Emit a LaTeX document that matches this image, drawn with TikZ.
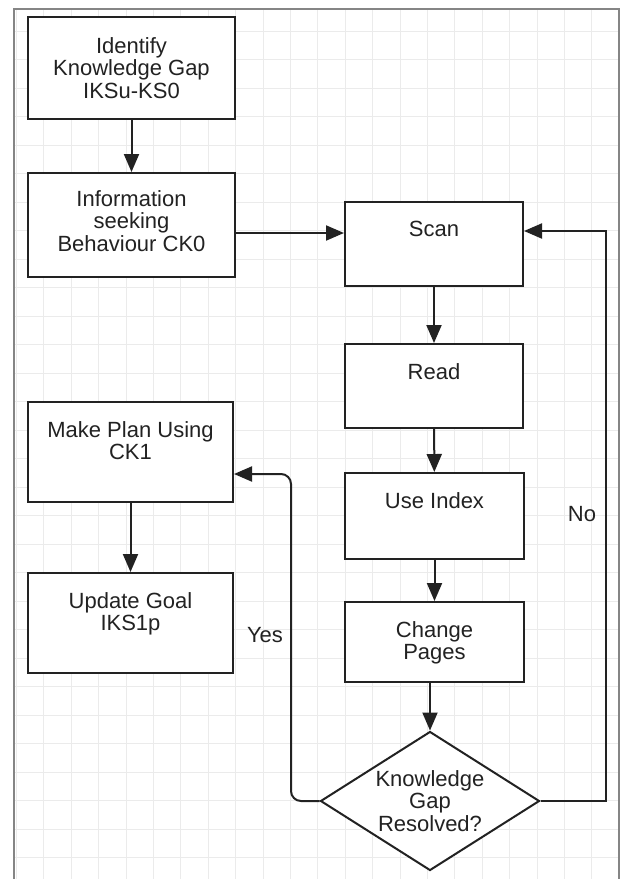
\documentclass[tikz,border=0pt]{standalone}
\usepackage{fontspec}
\setmainfont{Liberation Sans}
\usetikzlibrary{shapes.geometric,arrows.meta}
\definecolor{linec}{HTML}{222222}
\definecolor{textc}{HTML}{222222}
\definecolor{gridc}{HTML}{EBEBEB}
\definecolor{framec}{HTML}{858585}
\begin{document}
\begin{tikzpicture}[x=1pt,y=-1pt,
  box/.style={draw=linec, line width=2pt, fill=white, inner sep=0pt},
  txt/.style={font=\fontsize{22}{22.5}\selectfont, align=center, inner sep=0pt, text=textc},
  conn/.style={draw=linec, line width=2pt, -{Triangle[length=18pt,width=15pt]}},
  gridline/.style={draw=gridc, line width=1pt}]
\useasboundingbox (0,0) rectangle (620,879);
\fill[white] (0,0) rectangle (620,879);
% grid
\foreach \i in {0,...,21} \draw[gridline] ({16.4+\i*27.4},9) -- ({16.4+\i*27.4},879);
\foreach \k in {1,...,30} \draw[gridline] (14,{2.5+\k*28.5}) -- (619,{2.5+\k*28.5});
% frame
\draw[framec, line width=1.5pt] (14,879) -- (14,9) -- (619,9) -- (619,879);

% left column
\node[box, minimum width=207pt, minimum height=102pt] (b1) at (131.5,68) {};
\node[txt] (t1) at (b1) {Identify\\Knowledge Gap\\IKSu-KS0};
\node[box, minimum width=207pt, minimum height=104pt] (b2) at (131.5,225) {};
\node[txt] (t2) at ([yshift=4pt]b2.center) {Information\\seeking\\Behaviour CK0};
\node[box, minimum width=205pt, minimum height=100pt] (plan) at (130.5,452) {};
\node[txt, anchor=north] (tplan) at ([yshift=-20pt]plan.north) {Make Plan Using\\CK1};
\node[box, minimum width=205pt, minimum height=100pt] (goal) at (130.5,623) {};
\node[txt, anchor=north] (tgoal) at ([yshift=-20pt]goal.north) {Update Goal\\IKS1p};

% right column
\node[box, minimum width=178pt, minimum height=84pt] (scan) at (434,244) {};
\node[txt, anchor=north] (tscan) at ([yshift=-20pt]scan.north) {Scan};
\node[box, minimum width=178pt, minimum height=84pt] (read) at (434,386) {};
\node[txt, anchor=north] (tread) at ([yshift=-20pt]read.north) {Read};
\node[box, minimum width=179pt, minimum height=86pt] (useidx) at (434.5,516) {};
\node[txt, anchor=north] (tuse) at ([yshift=-20pt]useidx.north) {Use Index};
\node[box, minimum width=179pt, minimum height=80pt] (change) at (434.5,642) {};
\node[txt, anchor=north] (tchange) at ([yshift=-20pt]change.north) {Change\\Pages};
\node[diamond, box, minimum width=219pt, minimum height=139pt] (dia) at (430,801) {};
\node[txt] (tdia) at (dia) {Knowledge\\Gap\\Resolved?};

% labels
\node[txt] (yes) at (265,635) {Yes};
\node[txt] (no) at (582,514) {No};

% connectors
\draw[conn] (b1) -- (b2);
\coordinate (inrow) at (240,233);
\draw[conn] (b2.east |- inrow) -- (scan.west |- inrow);
\draw[conn] (scan) -- (read);
\draw[conn] (read) -- (useidx);
\draw[conn] (useidx) -- (change);
\draw[conn] (change.south -| dia.north) -- (dia.north);
\draw[conn] (plan) -- (goal);
\coordinate (noc) at (606,231);
\draw[conn] (dia.east) -| (noc) -- (scan.east |- noc);
\coordinate (yesc) at (291,474);
\draw[conn, rounded corners=10pt] (dia.west) -| (yesc) -- (plan.east |- yesc);
\end{tikzpicture}
\end{document}
